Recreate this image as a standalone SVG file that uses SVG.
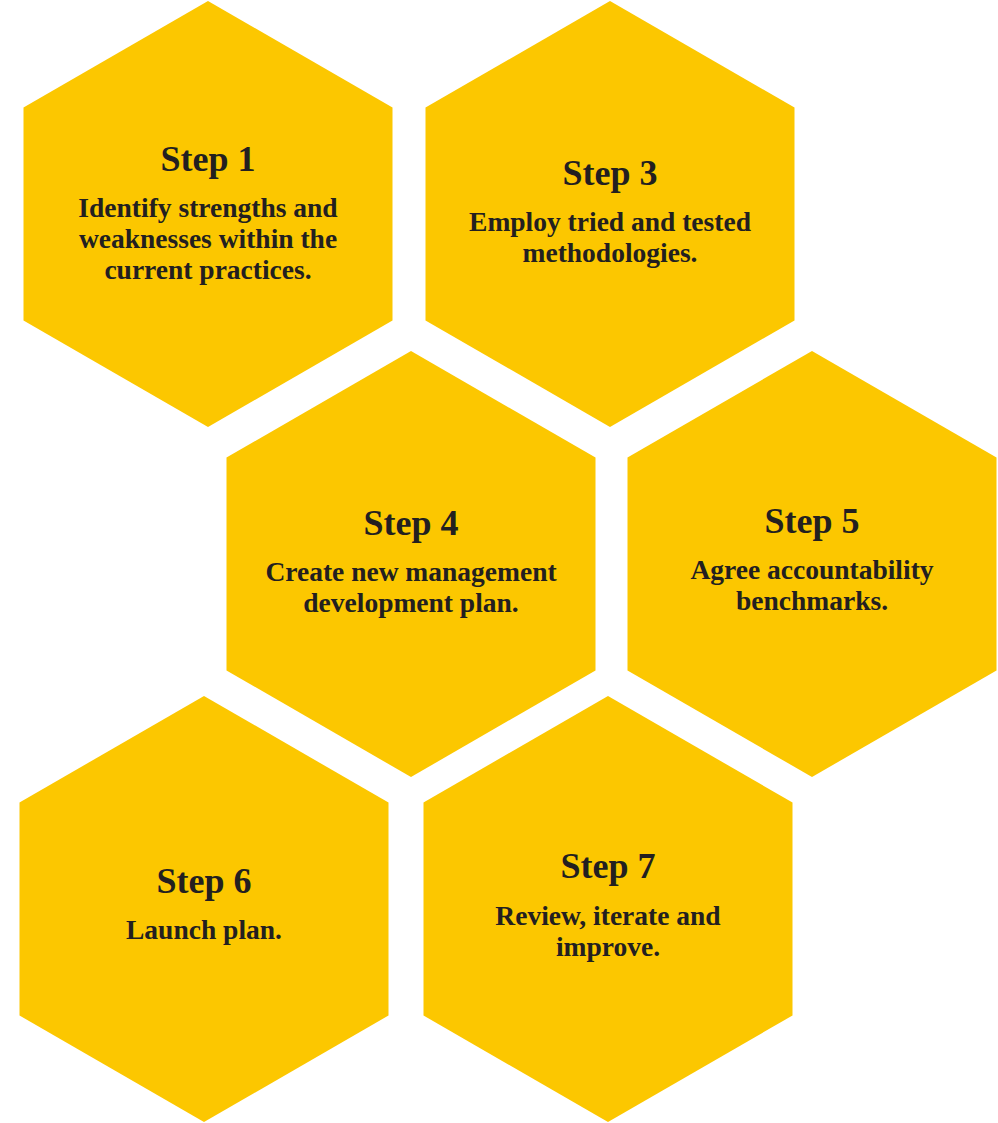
<svg xmlns="http://www.w3.org/2000/svg" xmlns:xlink="http://www.w3.org/1999/xlink" width="998" height="1123" viewBox="0 0 998 1123">
<style>
.hex{fill:#FCC700;}
.t{font-family:"Liberation Serif","Times New Roman",serif;font-weight:bold;fill:#231F20;text-anchor:middle;}
.h{font-size:36px;}
.b{font-size:27.5px;}
</style>
<defs>
<polygon id="hexshape" points="0,-213 184.5,-106.5 184.5,106.5 0,213 -184.5,106.5 -184.5,-106.5"/>
</defs>
<rect width="998" height="1123" fill="#FFFFFF"/>
<g id="step1">
<use href="#hexshape" xlink:href="#hexshape" class="hex" x="208" y="214"/>
<text class="t h" x="208" y="171">Step 1</text>
<text class="t b" x="208" y="217">Identify strengths and</text>
<text class="t b" x="208" y="248">weaknesses within the</text>
<text class="t b" x="208" y="279">current practices.</text>
</g>
<g id="step3">
<use href="#hexshape" xlink:href="#hexshape" class="hex" x="610" y="214"/>
<text class="t h" x="610" y="185">Step 3</text>
<text class="t b" x="610" y="231">Employ tried and tested</text>
<text class="t b" x="610" y="262">methodologies.</text>
</g>
<g id="step4">
<use href="#hexshape" xlink:href="#hexshape" class="hex" x="411" y="564"/>
<text class="t h" x="411" y="535">Step 4</text>
<text class="t b" x="411" y="581">Create new management</text>
<text class="t b" x="411" y="612">development plan.</text>
</g>
<g id="step5">
<use href="#hexshape" xlink:href="#hexshape" class="hex" x="812" y="564"/>
<text class="t h" x="812" y="533">Step 5</text>
<text class="t b" x="812" y="579">Agree accountability</text>
<text class="t b" x="812" y="610">benchmarks.</text>
</g>
<g id="step6">
<use href="#hexshape" xlink:href="#hexshape" class="hex" x="204" y="909"/>
<text class="t h" x="204" y="893">Step 6</text>
<text class="t b" x="204" y="939">Launch plan.</text>
</g>
<g id="step7">
<use href="#hexshape" xlink:href="#hexshape" class="hex" x="608" y="909"/>
<text class="t h" x="608" y="878">Step 7</text>
<text class="t b" x="608" y="925">Review, iterate and</text>
<text class="t b" x="608" y="956">improve.</text>
</g>
<g id="connectors"></g>
</svg>
